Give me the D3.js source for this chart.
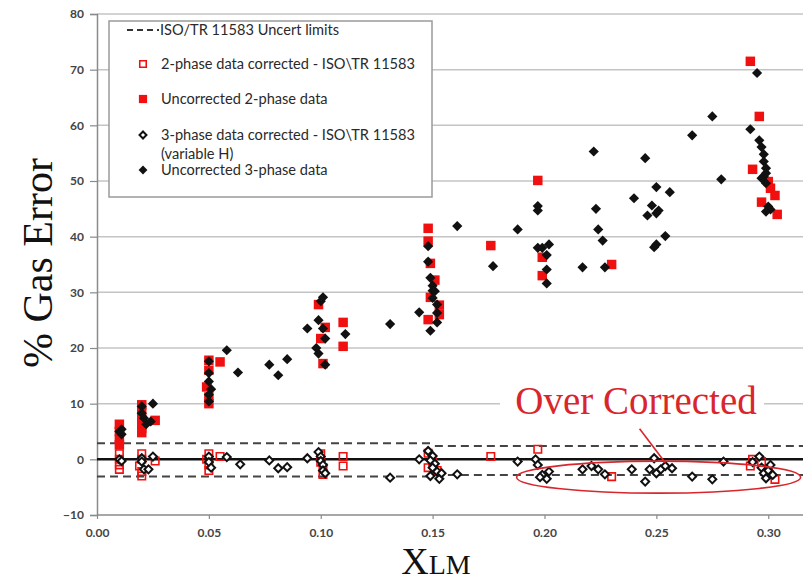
<!DOCTYPE html>
<html>
<head>
<meta charset="utf-8">
<script src="https://cdn.jsdelivr.net/npm/d3@7"></script>
<style>
  body { margin: 0; background: #fff; }
  .tick text { font-family: Lato, "Liberation Sans", sans-serif; font-weight: bold; font-size: 12px; fill: #444; }
</style>
</head>
<body>
<div id="chart"></div>
<script>
// Tick values
var xTicks = [0, 0.05, 0.10, 0.15, 0.20, 0.25, 0.30];
var yTicks = [-10, 0, 10, 20, 30, 40, 50, 60, 70, 80];

// ISO/TR 11583 uncertainty limits (two segments)
var limitBreaks = [0, 0.151, 0.33];
var upperLimits = [2.9, 2.4];
var lowerLimits = [-3.1, -2.8];

// 2-phase data corrected - ISO\TR 11583  [XLM, % error]
var corr2 = [
  [0.010, 1.0], [0.010, 0], [0.010, -1.0], [0.010, -1.8],
  [0.020, 1.0], [0.020, 0], [0.019, -1.2], [0.020, -2.2], [0.020, -3.0], [0.026, -0.3],
  [0.050, 1.0], [0.049, 0], [0.050, -1.0], [0.050, -2.0], [0.055, 0.5],
  [0.100, 1.0], [0.100, -0.5], [0.101, -1.5], [0.101, -2.7],
  [0.110, 0.5], [0.110, -1.2],
  [0.148, 1.1], [0.150, -0.5], [0.148, -1.5], [0.152, -2.0],
  [0.176, 0.5], [0.197, 1.8], [0.230, -3.1],
  [0.293, 0], [0.297, -0.4], [0.292, -1.2], [0.303, -3.6], [0.300, -2.0]
];

// Uncorrected 2-phase data
var uncorr2 = [
  [0.010, 6.3], [0.010, 5.0], [0.010, 3.6], [0.010, 2.6],
  [0.020, 9.8], [0.020, 8.5], [0.020, 7.0], [0.020, 5.6], [0.020, 4.8], [0.026, 7.0],
  [0.050, 17.8], [0.050, 16.0], [0.049, 13.0], [0.050, 11.2], [0.050, 10.0], [0.055, 17.5],
  [0.099, 27.8], [0.102, 23.7], [0.100, 21.7], [0.101, 17.2], [0.110, 24.6], [0.110, 20.3],
  [0.148, 41.5], [0.148, 39.2], [0.149, 35.2], [0.151, 32.2], [0.149, 29.1], [0.153, 27.7], [0.153, 26.0], [0.148, 25.1],
  [0.176, 38.4], [0.197, 50.1], [0.199, 36.3], [0.199, 33.0], [0.230, 35.0],
  [0.292, 71.5], [0.296, 61.6], [0.293, 52.1], [0.300, 49.9], [0.303, 47.4], [0.297, 46.2], [0.304, 44.0], [0.301, 48.7]
];

// 3-phase data corrected - ISO\TR 11583 (variable H)
var corr3 = [
  [0.010, 0], [0.011, -0.3],
  [0.020, 0.2], [0.020, -0.4], [0.021, -1.8], [0.023, -1.8], [0.025, 0.5],
  [0.050, 0.5], [0.050, -0.5], [0.051, -1.5], [0.058, 0.4], [0.064, -0.9],
  [0.077, -0.2], [0.081, -1.6], [0.085, -1.4], [0.094, 0.2],
  [0.099, 1.3], [0.100, 0.5], [0.100, -0.3], [0.101, -1.0], [0.101, -2.0], [0.102, -2.5],
  [0.131, -3.3], [0.144, 0],
  [0.148, 1.5], [0.150, 0.6], [0.149, -0.2], [0.151, -0.8], [0.150, -1.5], [0.152, -2.2], [0.149, -3.0], [0.153, -3.5], [0.154, -2.5],
  [0.161, -2.7], [0.188, -0.4],
  [0.196, 0], [0.197, -1.0], [0.199, -2.8], [0.201, -3.5], [0.202, -2.2], [0.198, -3.2],
  [0.217, -1.8], [0.221, -1.2], [0.224, -1.8], [0.227, -2.7],
  [0.239, -1.8], [0.245, -4.0], [0.247, -1.8], [0.249, 0.2], [0.250, -2.5], [0.252, -1.8], [0.254, -1.2], [0.257, -1.6],
  [0.266, -3.1], [0.275, -3.6], [0.280, -0.4],
  [0.293, -0.5], [0.296, 0.5], [0.297, -1.5], [0.298, -2.5], [0.299, -3.4], [0.300, -2.0], [0.301, -1.0], [0.302, -2.8]
];

// Uncorrected 3-phase data
var uncorr3 = [
  [0.011, 5.4], [0.011, 4.5], [0.010, 5.0],
  [0.020, 9.5], [0.020, 8.3], [0.021, 7.4], [0.022, 6.3], [0.024, 6.8], [0.025, 10.0],
  [0.050, 17.6], [0.050, 15.5], [0.050, 14.0], [0.051, 12.6], [0.050, 11.6], [0.050, 10.4], [0.058, 19.6], [0.063, 15.6],
  [0.077, 17.0], [0.081, 15.1], [0.085, 18.0], [0.094, 23.5],
  [0.101, 29.1], [0.100, 28.4], [0.099, 25.0], [0.101, 23.5], [0.102, 21.7], [0.098, 20.0], [0.099, 19.0], [0.102, 17.0], [0.111, 22.5],
  [0.131, 24.3], [0.144, 26.4], [0.148, 38.3], [0.148, 35.5], [0.149, 32.6], [0.150, 31.2], [0.150, 30.3], [0.151, 30.2], [0.150, 29.0], [0.152, 27.8], [0.152, 26.3], [0.152, 24.6], [0.149, 23.1],
  [0.161, 41.9], [0.177, 34.7], [0.188, 41.3],
  [0.197, 45.5], [0.197, 44.7], [0.197, 38.0], [0.199, 38.0], [0.202, 38.6], [0.201, 36.7], [0.201, 34.1], [0.201, 31.6],
  [0.217, 34.5], [0.222, 55.3], [0.223, 45.0], [0.224, 41.3], [0.226, 39.3], [0.227, 34.5],
  [0.240, 46.9], [0.245, 54.1], [0.250, 48.9], [0.248, 45.6], [0.246, 43.8], [0.251, 44.7], [0.250, 44.2], [0.254, 40.1], [0.250, 38.6], [0.249, 38.1], [0.256, 48.0],
  [0.266, 58.2], [0.275, 61.6], [0.279, 50.3],
  [0.295, 69.4], [0.292, 59.3], [0.296, 57.3], [0.297, 56.1], [0.298, 54.8], [0.298, 53.5], [0.299, 52.3], [0.299, 51.4], [0.298, 50.8], [0.297, 50.5], [0.299, 49.6], [0.300, 45.4], [0.301, 44.9], [0.299, 44.5]
];

// Size variables
var width = 803;
var height = 583;
var plotLeft = 97;
var plotRight = 813;
var plotTop = 14;
var plotBottom = 515;

var red = '#f01010';

var xScale = d3.scaleLinear().domain([0, 0.32]).range([plotLeft, plotRight]);
var yScale = d3.scaleLinear().domain([-10, 80]).range([plotBottom, plotTop]);

var svg = d3.select('#chart')
  .append('svg')
  .attr('width', width)
  .attr('height', height);

// Gridlines
svg.append('g')
  .selectAll('line')
  .data(yTicks.filter((d) => d > 0))
  .enter().append('line')
  .attr('x1', plotLeft)
  .attr('x2', width)
  .attr('y1', (d) => yScale(d))
  .attr('y2', (d) => yScale(d))
  .attr('stroke', '#c4c4c4')
  .attr('stroke-width', 1.5);

// Y Axis
var yAxis = svg.append('g')
  .attr('transform', `translate(${plotLeft}, 0)`)
  .call(d3.axisLeft(yScale).tickValues(yTicks).tickSize(7).tickPadding(6).tickFormat(d3.format('d')));

// X Axis
var xAxis = svg.append('g')
  .attr('transform', `translate(0, ${plotBottom})`)
  .call(d3.axisBottom(xScale).tickValues(xTicks).tickSize(4).tickPadding(9).tickFormat(d3.format('.2f')));

svg.selectAll('.domain').attr('stroke', '#8a8a8a').attr('stroke-width', 1.5);
svg.selectAll('.tick line').attr('stroke', '#8a8a8a').attr('stroke-width', 1.2);
xAxis.select('.domain').attr('d', `M${plotLeft},0H${width}`);

// Zero line
svg.append('line')
  .attr('x1', plotLeft)
  .attr('x2', width)
  .attr('y1', yScale(0))
  .attr('y2', yScale(0))
  .attr('stroke', '#111')
  .attr('stroke-width', 2.5);

// Uncertainty limit lines
[upperLimits, lowerLimits].forEach((lim) => {
  svg.append('g')
    .selectAll('line')
    .data(lim)
    .enter().append('line')
    .attr('x1', (d, i) => xScale(limitBreaks[i]))
    .attr('x2', (d, i) => Math.min(xScale(limitBreaks[i + 1]), width))
    .attr('y1', (d) => yScale(d))
    .attr('y2', (d) => yScale(d))
    .attr('stroke', '#444')
    .attr('stroke-width', 2)
    .attr('stroke-dasharray', '8,5');
});

// Marker helpers
var diamond = d3.symbol().type(d3.symbolSquare);

function drawSeries(data, opts) {
  svg.append('g')
    .selectAll('path')
    .data(data)
    .enter().append('path')
    .attr('d', diamond.size(opts.size)())
    .attr('transform', (d) => `translate(${xScale(d[0])}, ${yScale(d[1])}) rotate(${opts.rotate})`)
    .attr('fill', opts.fill)
    .attr('stroke', opts.stroke)
    .attr('stroke-width', opts.strokeWidth);
}

var styles = {
  corr2: { size: 56, rotate: 0, fill: 'none', stroke: red, strokeWidth: 1.6 },
  uncorr2: { size: 90, rotate: 0, fill: red, stroke: 'none', strokeWidth: 0 },
  corr3: { size: 32, rotate: 45, fill: '#fff', stroke: '#111', strokeWidth: 2 },
  uncorr3: { size: 52, rotate: 45, fill: '#111', stroke: 'none', strokeWidth: 0 }
};

drawSeries(corr2, styles.corr2);
drawSeries(uncorr2, styles.uncorr2);
drawSeries(corr3, styles.corr3);
drawSeries(uncorr3, styles.uncorr3);

// Annotation
svg.append('rect')
  .attr('x', 500)
  .attr('y', yScale(12))
  .attr('width', 264)
  .attr('height', yScale(8) - yScale(12))
  .attr('fill', '#fff');

svg.append('text')
  .attr('x', 636)
  .attr('y', 414)
  .attr('text-anchor', 'middle')
  .style('font-family', '"Liberation Serif", "Times New Roman", serif')
  .style('font-size', '39px')
  .style('fill', '#d9262c')
  .text('Over Corrected');

svg.append('line')
  .attr('x1', xScale(0.2425))
  .attr('y1', yScale(5.5))
  .attr('x2', xScale(0.254))
  .attr('y2', yScale(-0.6))
  .attr('stroke', '#d9262c')
  .attr('stroke-width', 1.6);

svg.append('ellipse')
  .attr('cx', xScale(0.251))
  .attr('cy', yScale(-3.2))
  .attr('rx', 142)
  .attr('ry', 16)
  .attr('fill', 'none')
  .attr('stroke', '#d9262c')
  .attr('stroke-width', 1.6);

// Axis labels
svg.append('text')
  .attr('transform', 'translate(52, 263) rotate(-90)')
  .attr('text-anchor', 'middle')
  .style('font-family', '"Liberation Serif", "Times New Roman", serif')
  .style('font-size', '42px')
  .style('fill', '#111')
  .text('% Gas Error');

var xLabel = svg.append('text')
  .attr('x', 436)
  .attr('y', 574)
  .attr('text-anchor', 'middle')
  .style('font-family', '"Liberation Serif", "Times New Roman", serif')
  .style('fill', '#111');
xLabel.append('tspan').style('font-size', '38px').text('X');
xLabel.append('tspan').style('font-size', '28px').text('LM');

// Legend
var legend = svg.append('g').attr('transform', 'translate(109, 21)');

legend.append('rect')
  .attr('width', 323)
  .attr('height', 176)
  .attr('fill', '#fff')
  .attr('stroke', '#9a9a9a')
  .attr('stroke-width', 1.5);

var legendItems = [
  { key: 'limit', label: ['ISO/TR 11583 Uncert limits'], y: 9 },
  { key: 'corr2', label: ['2-phase data corrected - ISO\\TR 11583'], y: 43 },
  { key: 'uncorr2', label: ['Uncorrected 2-phase data'], y: 78 },
  { key: 'corr3', label: ['3-phase data corrected - ISO\\TR 11583', '(variable H)'], y: 114 },
  { key: 'uncorr3', label: ['Uncorrected 3-phase data'], y: 149 }
];

legendItems.forEach((item) => {
  var g = legend.append('g').attr('transform', `translate(0, ${item.y})`);
  if (item.key === 'limit') {
    g.append('line')
      .attr('x1', 18).attr('x2', 50)
      .attr('stroke', '#333').attr('stroke-width', 2)
      .attr('stroke-dasharray', '6,4');
  } else {
    var s = styles[item.key];
    g.append('path')
      .attr('d', diamond.size(s.size * 0.75)())
      .attr('transform', `translate(34, 0) rotate(${s.rotate})`)
      .attr('fill', s.fill)
      .attr('stroke', s.stroke)
      .attr('stroke-width', s.strokeWidth);
  }
  var t = g.append('text')
    .attr('x', item.key === 'limit' ? 51 : 52)
    .attr('y', 5)
    .style('font-family', 'Lato, "Liberation Sans", sans-serif')
    .style('font-size', '14.6px')
    .style('fill', '#2a2a2a');
  item.label.forEach((line, i) => {
    t.append('tspan').attr('x', item.key === 'limit' ? 51 : 52).attr('dy', i ? 19 : 0).text(line);
  });
});
</script>
</body>
</html>
